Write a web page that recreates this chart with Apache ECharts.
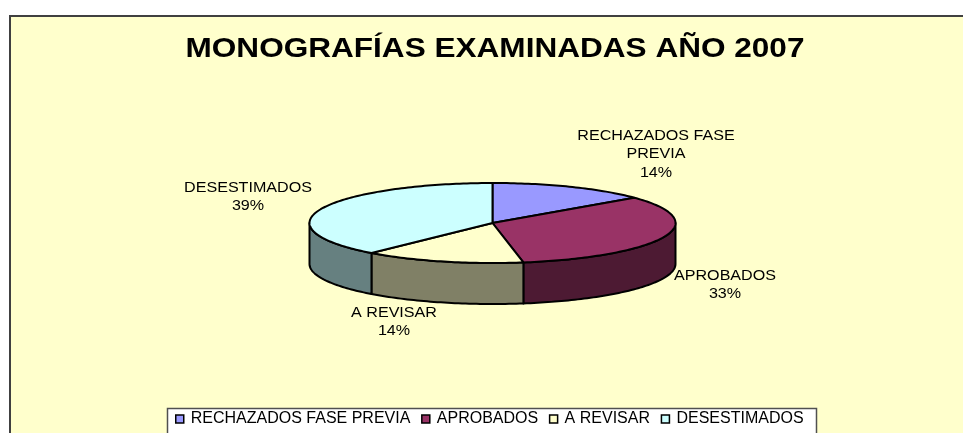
<!DOCTYPE html>
<html>
<head>
<meta charset="utf-8">
<style>
  html, body { margin: 0; padding: 0; background: #fff; }
  #chart { width: 963px; height: 433px; }
</style>
<script src="https://cdn.jsdelivr.net/npm/echarts@6/dist/echarts.min.js"></script>
</head>
<body>
<div id="chart"></div>
<script>
const categories = ["RECHAZADOS FASE PREVIA", "APROBADOS", "A REVISAR", "DESESTIMADOS"];
const seriesValues = [14.1, 33.2, 14.2, 38.5];
const topColors = ["#9999FF", "#993366", "#FFFFCC", "#CCFFFF"];
const sideColors = ["#5C5C99", "#4D1A33", "#808066", "#668080"];
const labelNames = [["RECHAZADOS FASE", "PREVIA"], ["APROBADOS"], ["A REVISAR"], ["DESESTIMADOS"]];

const FONT = '"Liberation Sans", Arial, sans-serif';
const PIE = { cx: 492.5, cy: 223, rx: 183, ry: 40, depth: 41 };
const LABEL_POS = [[656, 136], [725, 276], [394, 313], [248, 188]];
const LINE_H = 18.5;

const total = seriesValues.reduce((a, b) => a + b, 0);

// angle is measured clockwise from 12 o'clock, as a fraction of the ellipse
function pt(angle, dy) {
  return [PIE.cx + PIE.rx * Math.sin(angle), PIE.cy - PIE.ry * Math.cos(angle) + (dy || 0)];
}

function arcPoints(a0, a1, dy) {
  const pts = [];
  const steps = Math.max(2, Math.ceil((a1 - a0) / 0.02));
  for (let i = 0; i <= steps; i++) {
    pts.push(pt(a0 + ((a1 - a0) * i) / steps, dy));
  }
  return pts;
}

function renderSlice(index, value) {
  let before = 0;
  for (let i = 0; i < index; i++) before += seriesValues[i];
  const a0 = (before / total) * Math.PI * 2;
  const a1 = ((before + value) / total) * Math.PI * 2;
  const stroke = { stroke: "#000", lineWidth: 2, lineJoin: "round" };
  const children = [];

  // side wall, only the part that faces the viewer
  const s0 = Math.max(a0, Math.PI / 2);
  const s1 = Math.min(a1, Math.PI * 1.5);
  if (s1 > s0) {
    const wall = arcPoints(s0, s1, 0).concat(arcPoints(s0, s1, PIE.depth).reverse());
    children.push({
      type: "polygon",
      shape: { points: wall },
      style: Object.assign({ fill: sideColors[index] }, stroke),
    });
  }

  children.push({
    type: "polygon",
    shape: { points: [[PIE.cx, PIE.cy]].concat(arcPoints(a0, a1, 0)) },
    style: Object.assign({ fill: topColors[index] }, stroke),
  });

  const lines = labelNames[index].concat(Math.round((value / total) * 100) + "%");
  lines.forEach((line, i) => {
    children.push({
      type: "text",
      x: LABEL_POS[index][0],
      y: LABEL_POS[index][1] + i * LINE_H,
      scaleX: 1.15,
      style: { text: line, fill: "#000", font: "14px " + FONT, align: "center", verticalAlign: "middle" },
    });
  });

  return { type: "group", children: children };
}

const chart = echarts.init(document.getElementById("chart"), null, { renderer: "canvas" });

chart.setOption({
  animation: false,
  backgroundColor: "#fff",
  legend: {
    data: categories,
    left: 175,
    top: 411,
    padding: 0,
    itemWidth: 8,
    itemHeight: 8,
    itemGap: 10.7,
    icon: "rect",
    itemStyle: { borderColor: "#000", borderWidth: 1.5 },
    textStyle: { fontFamily: FONT, fontSize: 16, color: "#000", padding: [0, 0, 0, 2] },
  },
  graphic: [
    {
      type: "rect",
      z: -1,
      shape: { x: 10, y: 16, width: 960, height: 430 },
      style: { fill: "#FFFFCC", stroke: "#404040", lineWidth: 2 },
    },
    {
      type: "rect",
      z: -1,
      shape: { x: 167.5, y: 408.5, width: 649, height: 40 },
      style: { fill: "#FFFFFF", stroke: "#505050", lineWidth: 1.5 },
    },
    {
      type: "text",
      z: 5,
      x: 495,
      y: 49,
      scaleX: 1.127,
      style: {
        text: "MONOGRAFÍAS EXAMINADAS AÑO 2007",
        fill: "#000",
        font: "bold 28px " + FONT,
        align: "center",
        verticalAlign: "middle",
      },
    },
  ],
  series: categories.map((name, i) => ({
    name: name,
    type: "custom",
    coordinateSystem: "none",
    itemStyle: { color: topColors[i] },
    renderItem: (params, api) => renderSlice(i, api.value(0)),
    data: [[seriesValues[i]]],
  })),
});
</script>
</body>
</html>
